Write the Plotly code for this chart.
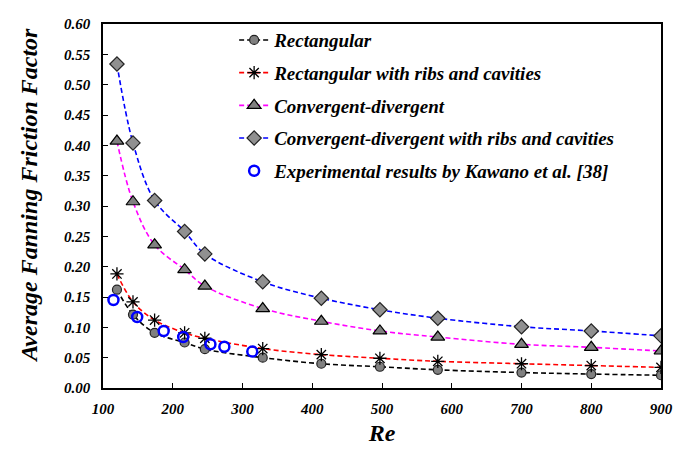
import plotly.graph_objects as go

re_main = [120, 143, 174, 217, 246, 329, 413, 497, 580, 700, 800, 900]
f_rect = [0.162, 0.121, 0.091, 0.075, 0.064, 0.050, 0.040, 0.035, 0.030, 0.0255, 0.023, 0.021]
f_rect_rib = [0.188, 0.142, 0.112, 0.091, 0.082, 0.065, 0.055, 0.049, 0.044, 0.040, 0.037, 0.034]
f_cd = [0.407, 0.307, 0.236, 0.195, 0.168, 0.131, 0.110, 0.094, 0.084, 0.072, 0.067, 0.061]
f_cd_rib = [0.534, 0.404, 0.309, 0.258, 0.221, 0.175, 0.148, 0.129, 0.115, 0.101, 0.094, 0.086]
re_exp = [115, 149, 187, 215, 254, 274, 314]
f_exp = [0.145, 0.117, 0.094, 0.084, 0.072, 0.068, 0.060]

names = ["Rectangular", "Rectangular with ribs and cavities", "Convergent-divergent",
         "Convergent-divergent with ribs and cavities", "Experimental results by Kawano et al. [38]"]
x_title = "Re"
y_title = "Average Fanning Friction Factor"

FONT = "Liberation Serif"
DASH = "5px,3px"

fig = go.Figure()
fig.add_trace(go.Scatter(x=re_main, y=f_rect, name=names[0], legendgroup="a", mode="lines+markers",
                         line=dict(color="black", width=1.6, dash=DASH, shape="spline"),
                         marker=dict(symbol="circle", size=9, color="#808080", line=dict(color="#222", width=1.2))))
fig.add_trace(go.Scatter(x=re_main, y=f_rect_rib, name=names[1], legendgroup="b", mode="lines+markers",
                         line=dict(color="red", width=1.6, dash=DASH, shape="spline"),
                         marker=dict(symbol="asterisk-open", size=11, color="black", line=dict(color="black", width=1.3))))
fig.add_trace(go.Scatter(x=re_main, y=f_cd, name=names[2], legendgroup="c", mode="lines+markers",
                         line=dict(color="magenta", width=1.6, dash=DASH, shape="spline"),
                         marker=dict(symbol="triangle-up", size=12, color="#808080", line=dict(color="black", width=1.2))))
fig.add_trace(go.Scatter(x=re_main, y=f_cd_rib, name=names[3], legendgroup="d", mode="lines+markers",
                         line=dict(color="blue", width=1.6, dash=DASH, shape="spline"),
                         marker=dict(symbol="diamond", size=11, color="#909090", line=dict(color="#222", width=1.2))))
fig.add_trace(go.Scatter(x=re_exp, y=f_exp, name=names[4], legendgroup="e", mode="markers",
                         marker=dict(symbol="circle-open", size=10, color="blue", line=dict(color="blue", width=2.5))))

tickfont = dict(family=FONT, size=15, color="black", weight="bold", style="italic")
fig.update_layout(
    width=673, height=442,
    margin=dict(l=95, r=14, t=8, b=58),
    plot_bgcolor="white", paper_bgcolor="white",
    showlegend=True,
    legend=dict(x=0.235, y=1.008, xanchor="left", yanchor="top", bgcolor="rgba(0,0,0,0)",
                font=dict(family=FONT, size=19, color="black", weight="bold", style="italic"),
                itemwidth=30, tracegroupgap=5, traceorder="grouped"),
    xaxis=dict(range=[100, 900], tickmode="linear", tick0=100, dtick=100, ticks="inside", ticklen=5,
               tickcolor="black", showline=True, linecolor="black", linewidth=1.5, mirror=True,
               showgrid=False, zeroline=False, tickfont=tickfont, ticklabelstandoff=6,
               title=dict(text=x_title, font=dict(family=FONT, size=24, color="black", weight="bold", style="italic"),
                          standoff=8)),
    yaxis=dict(range=[0, 0.6], tickmode="linear", tick0=0, dtick=0.05, tickformat=".2f", ticks="inside", ticklen=5,
               tickcolor="black", showline=True, linecolor="black", linewidth=1.5, mirror=True,
               showgrid=False, zeroline=False, tickfont=tickfont, ticklabelstandoff=8),
)
fig.add_annotation(text=y_title, xref="paper", yref="paper", x=-0.133, y=0.53, xanchor="center", yanchor="middle",
                   textangle=-90, showarrow=False,
                   font=dict(family=FONT, size=24, color="black", weight="bold", style="italic"))

fig.write_html("out.html")
